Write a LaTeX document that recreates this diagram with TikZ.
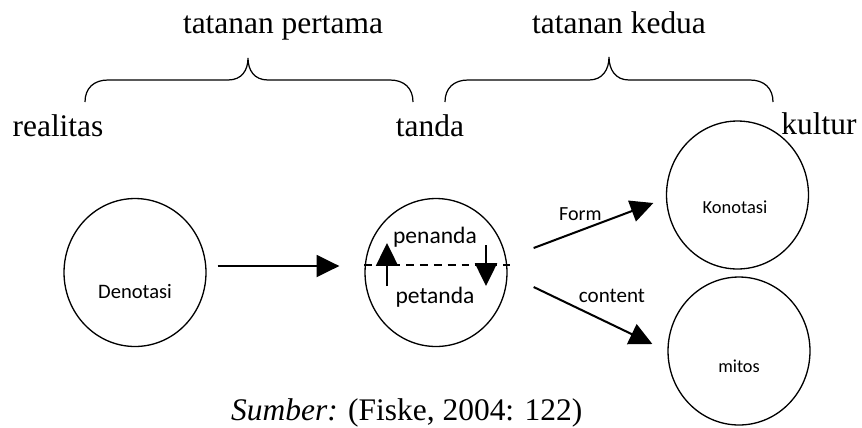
\documentclass[tikz,border=0pt]{standalone}
\usepackage{fontspec}
\setmainfont{Liberation Serif}
\newfontfamily\bodyfont{Carlito}
\usetikzlibrary{positioning,shapes.geometric,arrows.meta}

\begin{document}
\begin{tikzpicture}[x=0.02cm, y=-0.02cm,
    every node/.style={font=\fontsize{17.9}{21}\selectfont},
    circ/.style={draw, ellipse, line width=0.75pt, minimum width=2.84cm, minimum height=2.96cm, inner sep=0pt},
    txt/.style={font=\bodyfont\fontsize{#1}{#1}\selectfont, inner sep=1pt},
    arr/.style={-{Triangle[length=13pt, width=12.5pt]}, line width=1.15pt},
    curly/.style={line width=0.7pt}]
  \useasboundingbox (0,0) rectangle (862,427);

  % orders and their braces
  \node[anchor=base] (first) at (283,33) {tatanan pertama};
  \node[anchor=base] (second) at (619,33) {tatanan kedua};
  \node[anchor=base] (real) at (58,136) {realitas};
  \node[anchor=base] (sign) at (430,136) {tanda};
  \node[anchor=base] (cult) at (819,134) {kultur};
  \draw[curly] (85,102) .. controls (85,88) and (94,80) .. (108,80) -- (228,80)
    .. controls (242,80) and (248,70) .. (248,58)
    .. controls (248,70) and (254,80) .. (268,80) -- (390,80)
    .. controls (404,80) and (413,88) .. (413,102);
  \draw[curly] (445,102) .. controls (445,88) and (454,80) .. (468,80) -- (589,80)
    .. controls (603,80) and (609,69) .. (609,57)
    .. controls (609,69) and (615,80) .. (629,80) -- (750,80)
    .. controls (764,80) and (773,88) .. (773,102);

  % circles
  \node[circ] (deno) at (135,272.5) {};
  \node[circ] (mid) at (436,272.5) {};
  \node[circ] (kon) at (737.5,195) {};
  \node[circ] (myth) at (739,351) {};
  \node[txt=11.7] (denotxt) at ([shift={(0,18.5)}]deno.center) {Denotasi};
  \node[txt=13.4] (sigtxt) at ([shift={(-1,-35.5)}]mid.center) {penanda};
  \node[txt=13.4] (sigdtxt) at ([shift={(-1,24.5)}]mid.center) {petanda};
  \node[txt=10.5] (kontxt) at ([shift={(-2.5,12)}]kon.center) {Konotasi};
  \node[txt=10.4] (mythtxt) at ([shift={(0,15)}]myth.center) {mitos};

  % inside the sign
  \draw[line width=1.1pt, dash pattern=on 4.5pt off 3.4pt] ([shift={(0,-7.5)}]mid.west) -- ([shift={(2,-7.5)}]mid.east);
  \draw[arr] ([shift={(-49,13.5)}]mid.center) -- ([shift={(-49,-29.5)}]mid.center);
  \draw[arr] ([shift={(50,-27.5)}]mid.center) -- ([shift={(50,13.5)}]mid.center);

  % arrows
  \draw[arr] ([shift={(11,-6.5)}]deno.east) -- ([shift={(-25,-6.5)}]mid.west);
  \draw[arr] ([shift={(26,-24.5)}]mid.east) -- node[txt=11.4, pos=0.39, above=4pt] {Form} ([shift={(-12.5,8)}]kon.west);
  \draw[arr] ([shift={(26,14.5)}]mid.east) -- node[txt=12, pos=0.66, above=11pt] {content} ([shift={(-15,-7)}]myth.west);

  \node[anchor=base west] (src) at (225,420) {\textit{Sumber:} (Fiske, 2004: 122)};
\end{tikzpicture}
\end{document}
